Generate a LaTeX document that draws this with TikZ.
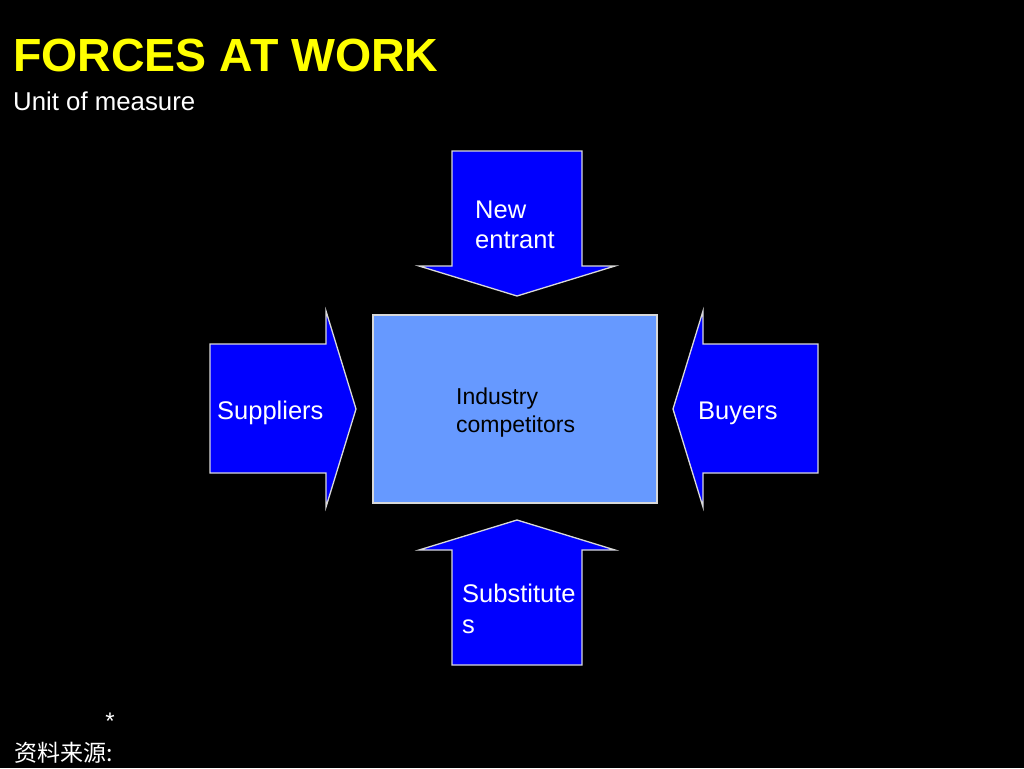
\documentclass[tikz,border=0pt]{standalone}
\usepackage{fontspec}
\setmainfont{Liberation Sans}
\newfontfamily\cjk{Noto Sans CJK SC}
\usetikzlibrary{positioning}
\definecolor{forceblue}{HTML}{0000FF}
\definecolor{rivalblue}{HTML}{6699FF}
\definecolor{titleyellow}{HTML}{FFFF00}

\begin{document}
\begin{tikzpicture}[x=1pt,y=-1pt,force/.style={fill=forceblue, draw=white!85!black, line width=1.3pt, line join=miter},lbl/.style={anchor=base west, inner sep=0pt, text=white, font=\fontsize{25.5}{30}\selectfont}]
  \useasboundingbox (0,0) rectangle (1024,768);
  \fill[black] (0,0) rectangle (1024,768);

  \node[anchor=base west, inner sep=0pt, text=titleyellow, font=\fontsize{46.5}{50}\bfseries\selectfont] (title) at (13,71) {FORCES AT WORK};
  \node[anchor=base west, inner sep=0pt, text=white, font=\fontsize{25.8}{30}\selectfont] (unit) at (13,110.5) {Unit of measure};

  \draw[force] (452,151) -- (582,151) -- (582,266) -- (615,266) -- (517,296) -- (419,266) -- (452,266) -- cycle;
  \draw[force] (452,665) -- (582,665) -- (582,550) -- (615,550) -- (517,520) -- (419,550) -- (452,550) -- cycle;
  \draw[force] (210,344) -- (326,344) -- (326,311) -- (356,409) -- (326,507) -- (326,473) -- (210,473) -- cycle;
  \draw[force] (818,344) -- (703,344) -- (703,311) -- (673,409) -- (703,507) -- (703,473) -- (818,473) -- cycle;

  \node[draw=white!85!black, line width=1.3pt, fill=rivalblue, minimum width=284pt, minimum height=188pt, inner sep=0pt] (rivals) at (515,409) {};

  \node[lbl] (new1) at (475,218) {New};
  \node[lbl] (new2) at (475,248) {entrant};
  \node[lbl] (sub1) at (462,602.5) {Substitute};
  \node[lbl] (sub2) at (462,633) {s};
  \node[lbl] (sup) at (217,419) {Suppliers};
  \node[lbl] (buy) at (698,419) {Buyers};
  \node[anchor=base west, inner sep=0pt, text=black, font=\fontsize{23}{28}\selectfont] (ind1) at (456,404) {Industry};
  \node[anchor=base west, inner sep=0pt, text=black, font=\fontsize{23}{28}\selectfont] (ind2) at (456,432) {competitors};

  \node[text=white, inner sep=0pt, font=\fontsize{24}{26}\selectfont] (star) at (110,721) {*};
  \node[anchor=base west, inner sep=0pt, text=white, font=\cjk\fontsize{23}{26}\selectfont] (src) at (14,761) {资料来源:};
\end{tikzpicture}
\end{document}
